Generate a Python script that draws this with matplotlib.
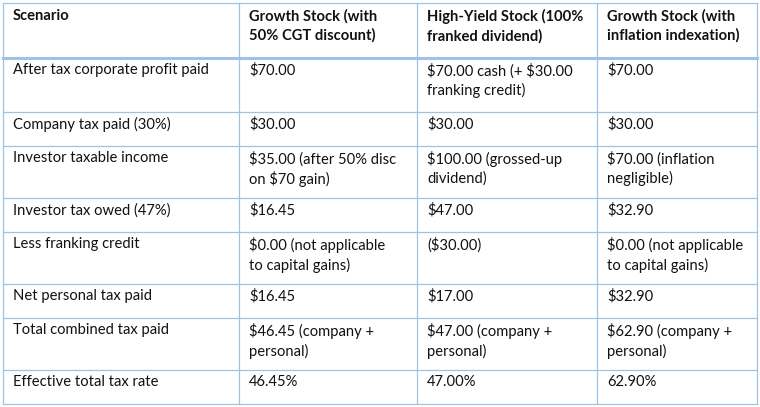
import matplotlib
matplotlib.use("Agg")
import matplotlib.pyplot as plt

headers = ["Scenario", "Growth Stock (with\n50% CGT discount)",
           "High-Yield Stock (100%\nfranked dividend)",
           "Growth Stock (with\ninflation indexation)"]
rows = [
    ["After tax corporate profit paid", "$70.00", "$70.00 cash (+ $30.00\nfranking credit)", "$70.00"],
    ["Company tax paid (30%)", "$30.00", "$30.00", "$30.00"],
    ["Investor taxable income", "$35.00 (after 50% disc\non $70 gain)", "$100.00 (grossed-up\ndividend)", "$70.00 (inflation\nnegligible)"],
    ["Investor tax owed (47%)", "$16.45", "$47.00", "$32.90"],
    ["Less franking credit", "$0.00 (not applicable\nto capital gains)", "($30.00)", "$0.00 (not applicable\nto capital gains)"],
    ["Net personal tax paid", "$16.45", "$17.00", "$32.90"],
    ["Total combined tax paid", "$46.45 (company +\npersonal)", "$47.00 (company +\npersonal)", "$62.90 (company +\npersonal)"],
    ["Effective total tax rate", "46.45%", "47.00%", "62.90%"],
]

col_x = [3, 239, 417, 597, 757]
row_y = [3, 58, 112, 146, 198, 232, 284, 318, 370, 404]
border = "#9dc3e6"

fig = plt.figure(figsize=(7.6, 4.07), dpi=100)
ax = fig.add_axes([0, 0, 1, 1])
ax.set_xlim(0, 760)
ax.set_ylim(407, 0)
ax.axis("off")

for x in col_x:
    ax.plot([x, x], [row_y[0], row_y[-1]], color=border, lw=0.9)
for i, y in enumerate(row_y):
    ax.plot([col_x[0], col_x[-1]], [y, y], color=border, lw=2.2 if i == 1 else 0.9)

for j, h in enumerate(headers):
    ax.text(col_x[j] + 10, row_y[0] + 6, h, fontsize=10.6, fontweight="bold",
            family="Lato", va="top", ha="left", linespacing=1.4,
            color="#111111", parse_math=False)
for i, r in enumerate(rows):
    for j, cell in enumerate(r):
        ax.text(col_x[j] + 10, row_y[i + 1] + 5, cell, fontsize=10.6,
                family="Lato", va="top", ha="left", linespacing=1.4,
                color="#111111", parse_math=False)

fig.savefig("out.png", dpi=100)
